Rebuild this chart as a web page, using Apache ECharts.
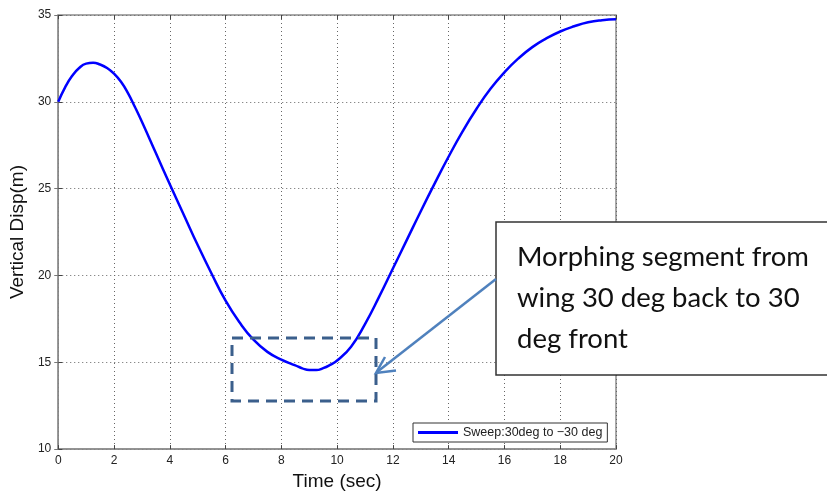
<!DOCTYPE html>
<html>
<head>
<meta charset="utf-8">
<script src="https://cdn.jsdelivr.net/npm/echarts@6/dist/echarts.min.js"></script>
<style>
  html, body { margin: 0; padding: 0; background: #fff; }
  #chart { width: 827px; height: 496px; }
</style>
</head>
<body>
<div id="chart"></div>
<script>
// time (sec) and vertical displacement (m)
var timeSec = [0, 0.25, 0.5, 0.75, 1, 1.25, 1.5, 1.75, 2, 2.25, 2.5, 2.75, 3, 3.5, 4, 4.5, 5, 5.5, 6, 6.5, 7, 7.5, 8, 8.5,
  8.75, 9, 9.25, 9.5, 9.75, 10, 10.5, 11, 11.5, 12, 12.5, 13, 13.5, 14, 14.5, 15, 15.5, 16, 16.5, 17, 17.5, 18, 18.5, 19, 19.5, 20]
var vertDisp = [30.0, 30.85, 31.5, 31.95, 32.2, 32.25, 32.15, 31.95, 31.62, 31.15, 30.5, 29.7, 28.85, 27.05, 25.25, 23.5, 21.75, 20.1, 18.55, 17.3, 16.3, 15.6, 15.15, 14.82,
  14.65, 14.55, 14.55, 14.66, 14.85, 15.1, 15.9, 17.2, 18.75, 20.4, 22.05, 23.7, 25.3, 26.85, 28.3, 29.6, 30.75, 31.7, 32.5, 33.15, 33.65, 34.05, 34.35, 34.58, 34.7, 34.75]
var seriesName = 'Sweep:30deg to \u221230 deg'
var noteLines = ['Morphing segment from', 'wing 30 deg back to 30', 'deg front']

var points = timeSec.map(function (t, i) { return [t, vertDisp[i]] })

var chart = echarts.init(document.getElementById('chart'))

var gridLine = { show: true, lineStyle: { color: '#666', type: [1, 3], width: 1 } }
var tickLbl = { color: '#222', fontFamily: 'Liberation Sans, Arial', fontSize: 12 }

var opt = {
  backgroundColor: '#fff',
  animation: false,
  grid: {
    left: 57, top: 15, right: 211, bottom: 40,
    show: true, borderColor: '#8c8c8c', borderWidth: 1.5
  },
  xAxis: [{
    type: 'value', min: 0, max: 20, interval: 2,
    name: 'Time (sec)', nameLocation: 'middle', nameGap: 17,
    nameTextStyle: { fontFamily: 'Liberation Sans, Arial', fontSize: 19, color: '#111' },
    axisLine: { show: true, lineStyle: { color: '#8c8c8c', width: 1.5 } },
    axisTick: { inside: true, length: 4, lineStyle: { color: '#444' } },
    axisLabel: Object.assign({ margin: 6 }, tickLbl),
    splitLine: gridLine
  }, {
    type: 'value', min: 0, max: 20, interval: 2, position: 'top',
    axisLine: { show: false },
    axisTick: { inside: true, length: 4, lineStyle: { color: '#444' } },
    axisLabel: { show: false }, splitLine: { show: false }
  }],
  yAxis: [{
    type: 'value', min: 10, max: 35, interval: 5,
    name: 'Vertical Disp(m)', nameLocation: 'middle', nameGap: 26,
    nameTextStyle: { fontFamily: 'Liberation Sans, Arial', fontSize: 19, color: '#111' },
    axisLine: { show: true, lineStyle: { color: '#8c8c8c', width: 1.5 } },
    axisTick: { inside: true, length: 4, lineStyle: { color: '#444' } },
    axisLabel: Object.assign({ margin: 7 }, tickLbl),
    splitLine: gridLine
  }, {
    type: 'value', min: 10, max: 35, interval: 5, position: 'right',
    axisLine: { show: false },
    axisTick: { inside: true, length: 4, lineStyle: { color: '#777' } },
    axisLabel: { show: false }, splitLine: { show: false }
  }],
  legend: {
    left: 413, top: 423,
    padding: [3, 5],
    backgroundColor: '#fff',
    borderColor: '#333', borderWidth: 1, borderRadius: 0,
    itemWidth: 40, itemHeight: 3, icon: 'rect',
    textStyle: { fontFamily: 'Liberation Sans, Arial', fontSize: 12.5, color: '#222' },
    data: [seriesName]
  },
  series: [{
    name: seriesName,
    type: 'line',
    data: points,
    smooth: 0.5,
    showSymbol: false,
    color: '#0000ff',
    lineStyle: { color: '#0000ff', width: 2.5 }
  }],
  graphic: [
    // dashed highlight box
    { type: 'rect', shape: { x: 232, y: 338, width: 144, height: 63 }, z: 50,
      style: { fill: 'none', stroke: '#3b5f8c', lineWidth: 3, lineDash: [11, 7] } },
    // annotation box
    { type: 'rect', shape: { x: 496, y: 222, width: 345, height: 153 }, z: 50,
      style: { fill: '#fff', stroke: '#333', lineWidth: 1.5 } },
    { type: 'text', left: 517, top: 237, z: 51,
      style: { text: noteLines.join('\n'), fill: '#111', lineHeight: 41,
        font: '27.5px Lato, "Open Sans", sans-serif' } },
    // arrow
    { type: 'line', shape: { x1: 496, y1: 279, x2: 377, y2: 372 }, z: 50,
      style: { stroke: '#4f81bd', lineWidth: 2.5 } },
    { type: 'polyline', shape: { points: [[385, 357], [376, 373], [396, 370.5]] }, z: 50,
      style: { fill: 'none', stroke: '#4f81bd', lineWidth: 2.5 } }
  ]
}

chart.setOption(opt)
</script>
</body>
</html>
